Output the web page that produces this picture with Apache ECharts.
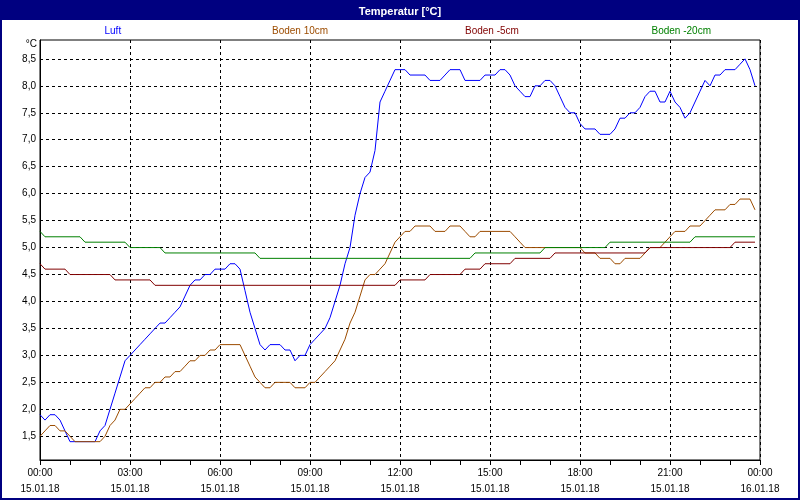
<!DOCTYPE html>
<html>
<head>
<meta charset="utf-8">
<script src="https://cdn.jsdelivr.net/npm/echarts@6/dist/echarts.min.js"></script>
<style>
html,body{margin:0;padding:0;background:#fff;}
#chart{width:800px;height:500px;}
</style>
</head>
<body>
<div id="chart"></div>
<script>
// ---- data (10-minute readings, 15.01.18 00:00 .. 23:50) ----
const seriesNames = ['Luft', 'Boden 10cm', 'Boden -5cm', 'Boden -20cm'];
const stepMinutes = 10;

const luft = [
  1.9,1.8,1.9,1.9,1.8,1.6,1.4,1.4,1.4,1.4,
  1.4,1.4,1.6,1.7,2.0,2.3,2.6,2.9,3.0,3.1,
  3.2,3.3,3.4,3.5,3.6,3.6,3.7,3.8,3.9,4.1,
  4.3,4.4,4.4,4.5,4.5,4.6,4.6,4.6,4.7,4.7,
  4.6,4.2,3.8,3.5,3.2,3.1,3.2,3.2,3.2,3.1,
  3.1,2.9,3.0,3.0,3.2,3.3,3.4,3.5,3.7,4.0,
  4.3,4.7,5.0,5.6,6.0,6.3,6.4,6.8,7.7,7.9,
  8.1,8.3,8.3,8.3,8.2,8.2,8.2,8.2,8.1,8.1,
  8.1,8.2,8.3,8.3,8.3,8.1,8.1,8.1,8.1,8.2,
  8.2,8.2,8.3,8.3,8.2,8.0,7.9,7.8,7.8,8.0,
  8.0,8.1,8.1,8.0,7.8,7.6,7.5,7.5,7.3,7.2,
  7.2,7.2,7.1,7.1,7.1,7.2,7.4,7.4,7.5,7.5,
  7.6,7.8,7.9,7.9,7.7,7.7,7.9,7.7,7.6,7.4,
  7.5,7.7,7.9,8.1,8.0,8.2,8.2,8.3,8.3,8.3,
  8.4,8.5,8.3,8.0
];

const boden10 = [
  1.5,1.6,1.7,1.7,1.6,1.6,1.5,1.4,1.4,1.4,
  1.4,1.4,1.4,1.5,1.7,1.8,2.0,2.0,2.1,2.2,
  2.3,2.4,2.4,2.5,2.5,2.6,2.6,2.7,2.7,2.8,
  2.9,2.9,3.0,3.0,3.1,3.1,3.2,3.2,3.2,3.2,
  3.2,3.0,2.8,2.6,2.5,2.4,2.4,2.5,2.5,2.5,
  2.5,2.4,2.4,2.4,2.5,2.5,2.6,2.7,2.8,2.9,
  3.1,3.3,3.6,3.8,4.1,4.4,4.5,4.5,4.6,4.7,
  4.9,5.1,5.2,5.3,5.3,5.4,5.4,5.4,5.4,5.3,
  5.3,5.3,5.4,5.4,5.4,5.3,5.2,5.2,5.3,5.3,
  5.3,5.3,5.3,5.3,5.3,5.2,5.1,5.0,5.0,5.0,
  5.0,5.0,5.0,5.0,5.0,5.0,5.0,5.0,5.0,4.9,
  4.9,4.9,4.8,4.8,4.8,4.7,4.7,4.8,4.8,4.8,
  4.8,4.9,5.0,5.0,5.0,5.1,5.2,5.3,5.3,5.3,
  5.4,5.4,5.4,5.5,5.6,5.7,5.7,5.7,5.8,5.8,
  5.9,5.9,5.9,5.7
];

const bodenMinus5 = [
  4.7,4.6,4.6,4.6,4.6,4.6,4.5,4.5,4.5,4.5,
  4.5,4.5,4.5,4.5,4.5,4.4,4.4,4.4,4.4,4.4,
  4.4,4.4,4.4,4.3,4.3,4.3,4.3,4.3,4.3,4.3,
  4.3,4.3,4.3,4.3,4.3,4.3,4.3,4.3,4.3,4.3,
  4.3,4.3,4.3,4.3,4.3,4.3,4.3,4.3,4.3,4.3,
  4.3,4.3,4.3,4.3,4.3,4.3,4.3,4.3,4.3,4.3,
  4.3,4.3,4.3,4.3,4.3,4.3,4.3,4.3,4.3,4.3,
  4.3,4.3,4.4,4.4,4.4,4.4,4.4,4.4,4.5,4.5,
  4.5,4.5,4.5,4.5,4.5,4.6,4.6,4.6,4.6,4.7,
  4.7,4.7,4.7,4.7,4.7,4.8,4.8,4.8,4.8,4.8,
  4.8,4.8,4.8,4.9,4.9,4.9,4.9,4.9,4.9,4.9,
  4.9,4.9,4.9,4.9,4.9,4.9,4.9,4.9,4.9,4.9,
  4.9,4.9,5.0,5.0,5.0,5.0,5.0,5.0,5.0,5.0,
  5.0,5.0,5.0,5.0,5.0,5.0,5.0,5.0,5.0,5.1,
  5.1,5.1,5.1,5.1
];

const bodenMinus20 = [
  5.3,5.2,5.2,5.2,5.2,5.2,5.2,5.2,5.2,5.1,
  5.1,5.1,5.1,5.1,5.1,5.1,5.1,5.1,5.0,5.0,
  5.0,5.0,5.0,5.0,5.0,4.9,4.9,4.9,4.9,4.9,
  4.9,4.9,4.9,4.9,4.9,4.9,4.9,4.9,4.9,4.9,
  4.9,4.9,4.9,4.9,4.8,4.8,4.8,4.8,4.8,4.8,
  4.8,4.8,4.8,4.8,4.8,4.8,4.8,4.8,4.8,4.8,
  4.8,4.8,4.8,4.8,4.8,4.8,4.8,4.8,4.8,4.8,
  4.8,4.8,4.8,4.8,4.8,4.8,4.8,4.8,4.8,4.8,
  4.8,4.8,4.8,4.8,4.8,4.8,4.8,4.9,4.9,4.9,
  4.9,4.9,4.9,4.9,4.9,4.9,4.9,4.9,4.9,4.9,
  4.9,5.0,5.0,5.0,5.0,5.0,5.0,5.0,5.0,5.0,
  5.0,5.0,5.0,5.0,5.1,5.1,5.1,5.1,5.1,5.1,
  5.1,5.1,5.1,5.1,5.1,5.1,5.1,5.1,5.1,5.1,
  5.1,5.2,5.2,5.2,5.2,5.2,5.2,5.2,5.2,5.2,
  5.2,5.2,5.2,5.2
];

const xTickLabels = [
  '00:00\n15.01.18','03:00\n15.01.18','06:00\n15.01.18','09:00\n15.01.18',
  '12:00\n15.01.18','15:00\n15.01.18','18:00\n15.01.18','21:00\n15.01.18',
  '00:00\n16.01.18'
];
const yTickValues = [1.5,2.0,2.5,3.0,3.5,4.0,4.5,5.0,5.5,6.0,6.5,7.0,7.5,8.0,8.5];

const seriesColors = ['#0000ff', '#9c4c00', '#800000', '#008000'];
const legendCenters = [113, 300, 492, 681];
const legendWidths = [17, 56, 54, 59];

// ---- chart ----
const FONT = "'Liberation Sans',Arial,sans-serif";
const NAVY = '#000080';
const chart = echarts.init(document.getElementById('chart'), null, {renderer: 'canvas'});

const allData = [luft, boden10, bodenMinus5, bodenMinus20];
const toPairs = arr => arr.map((v, i) => [i * stepMinutes, v]);

const option = {
  animation: false,
  backgroundColor: '#ffffff',
  textStyle: {fontFamily: FONT},
  title: {
    text: 'Temperatur [°C]',
    left: 'center',
    top: 1,
    z: 10,
    textStyle: {color: '#ffffff', fontSize: 11, fontWeight: 'bold', fontFamily: FONT}
  },
  graphic: [
    {type: 'rect', z: 0, silent: true, shape: {x: 0, y: 0, width: 800, height: 20}, style: {fill: NAVY}},
    {type: 'rect', z: 0, silent: true, shape: {x: 1, y: 1, width: 798, height: 498}, style: {fill: null, stroke: NAVY, lineWidth: 2}}
  ],
  legend: seriesNames.map((name, k) => ({
    data: [name],
    left: legendCenters[k] - legendWidths[k] / 2 - 5,
    top: 26,
    padding: 0,
    icon: 'rect',
    itemWidth: 0,
    itemHeight: 0,
    selectedMode: false,
    textStyle: {color: seriesColors[k], fontSize: 10, fontFamily: FONT}
  })),
  grid: {
    left: 40, right: 40, top: 40, bottom: 40,
    show: true, borderColor: '#000000', borderWidth: 1, backgroundColor: '#ffffff'
  },
  xAxis: {
    type: 'value',
    min: 0,
    max: 1440,
    interval: 180,
    axisLine: {show: true, lineStyle: {color: '#000000', width: 1}},
    axisTick: {show: true, length: 5, lineStyle: {color: '#000000'}},
    minorTick: {show: true, splitNumber: 3, length: 5, lineStyle: {color: '#000000'}},
    splitLine: {show: true, lineStyle: {color: '#000000', type: [3, 3], width: 1}},
    axisLabel: {
      color: '#000000', fontSize: 10, fontFamily: FONT, margin: 5, lineHeight: 16,
      formatter: v => xTickLabels[Math.round(v / 180)] || ''
    }
  },
  yAxis: {
    type: 'value',
    min: 1.06,
    max: 8.85,
    name: '°C',
    nameLocation: 'end',
    nameGap: -4,
    nameTextStyle: {color: '#000000', fontSize: 10, fontFamily: FONT, align: 'right', verticalAlign: 'middle', padding: [0, 3, 0, 0]},
    axisLine: {show: true, lineStyle: {color: '#000000', width: 1}},
    axisTick: {show: false, customValues: yTickValues},
    splitLine: {show: true, lineStyle: {color: '#000000', type: [3, 3], width: 1}},
    axisLabel: {
      color: '#000000', fontSize: 10, fontFamily: FONT, margin: 4,
      customValues: yTickValues,
      formatter: v => v.toFixed(1).replace('.', ',')
    }
  },
  series: seriesNames.map((name, k) => ({
    name: name,
    type: 'line',
    data: toPairs(allData[k]),
    symbol: 'none',
    showSymbol: false,
    smooth: false,
    color: seriesColors[k],
    lineStyle: {color: seriesColors[k], width: 1}
  }))
};
chart.setOption(option);
</script>
</body>
</html>
